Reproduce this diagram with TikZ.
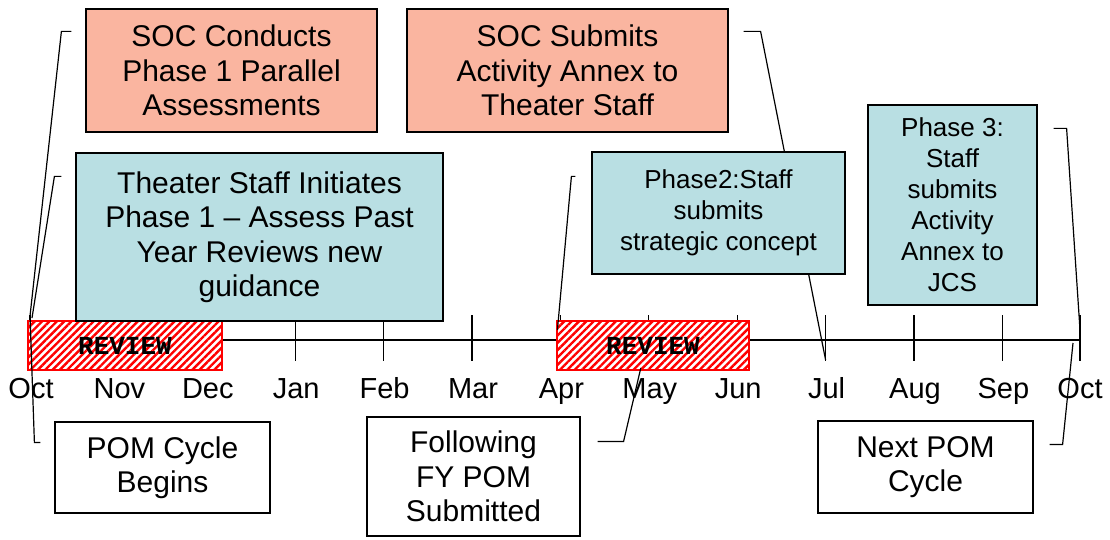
\documentclass[tikz,border=0pt]{standalone}
\usepackage{fontspec}
\setmainfont{Liberation Sans}
\newfontfamily\revfont{Liberation Mono}
\usetikzlibrary{patterns.meta}
\definecolor{salmon}{RGB}{250,181,160}
\definecolor{celeste}{RGB}{185,223,227}
\pgfdeclarelayer{eje}
\pgfdeclarelayer{revision}
\pgfdeclarelayer{lineas}
\pgfsetlayers{eje,revision,lineas,main}

\begin{document}
\begin{tikzpicture}[x=1pt, y=-1pt,
        every node/.style={align=center, inner sep=0pt},
        caja/.style={draw, line width=1.2pt, font=\fontsize{30}{34.5}\selectfont},
        soc/.style={caja, fill=salmon},
        fase/.style={caja, fill=celeste},
        fasechica/.style={fase, font=\fontsize{26}{31}\selectfont},
        pom/.style={caja, fill=white},
        revision/.style={draw=red, line width=1.5pt, preaction={fill=white},
            pattern={Lines[angle=45, distance=5.2pt, line width=2.4pt]}, pattern color=red,
            minimum height=49pt, font=\revfont\bfseries\fontsize{26}{26}\selectfont},
        mes/.style={anchor=base, font=\fontsize{29}{29}\selectfont},
        linea/.style={line width=1.2pt}
    ]
    \useasboundingbox (0,0) rectangle (1110,540);

    \node (soc1) [soc, minimum width=291pt, minimum height=123pt] at (231.5,70.5) {SOC Conducts\\Phase 1 Parallel\\Assessments};
    \node (soc2) [soc, minimum width=321pt, minimum height=123pt] at (567.5,70.5) {SOC Submits\\Activity Annex to\\Theater Staff};
    \node (teatro) [fase, minimum width=367pt, minimum height=168pt] at (259.5,237) {Theater Staff Initiates\\Phase 1 – Assess Past\\Year Reviews new\\guidance};
    \node (fase2) [fasechica, minimum width=253pt, minimum height=122pt] at (718.5,213) {Phase2:Staff\\submits\\strategic concept};
    \node (fase3) [fasechica, minimum width=169pt, minimum height=200pt] at (952.5,205) {Phase 3:\\Staff\\submits\\Activity\\Annex to\\JCS};
    \node (pom1) [pom, minimum width=215pt, minimum height=91pt] at (162.5,467.5) {POM Cycle\\Begins};
    \node (pom2) [pom, minimum width=213pt, minimum height=119pt] at (473.5,476.5) {Following\\FY POM\\Submitted};
    \node (pom3) [pom, minimum width=215pt, minimum height=92pt] at (925.5,467) {Next POM\\Cycle};

    % linea de tiempo
    \foreach \m [count=\i from 0] in {Oct,Nov,Dec,Jan,Feb,Mar,Apr,May,Jun,Jul,Aug,Sep} {
        \coordinate (t\i) at (30+88.4*\i,340);
        \node (m\i) [mes] at (31+88.4*\i,398) {\m};
    }
    \coordinate (t12) at (1080,340);
    \node (m12) [mes] at (1080,398) {Oct};

    \begin{pgfonlayer}{eje}
    \draw [linea] (t0) -- (t12);
    \foreach \i in {0,...,12}
        \draw [linea] ([yshift=25pt]t\i) -- ([yshift=-21pt]t\i);
    \end{pgfonlayer}

    \begin{pgfonlayer}{revision}
    \node (rev1) [revision, minimum width=194pt] at (125,345.5) {REVIEW};
    \node (rev2) [revision, minimum width=192pt] at (653,345.5) {REVIEW};
    \end{pgfonlayer}

    \begin{pgfonlayer}{lineas}
    \draw [linea] ([xshift=-14pt,yshift=-23pt]soc1.north west) -- ++(-10,0) -- ([yshift=24pt]t0);
    \draw [linea] ([xshift=-14pt,yshift=-24pt]teatro.north west) -- ++(-7,0) -- ([xshift=2pt,yshift=22pt]t0);
    \draw [linea] ([xshift=-14pt,yshift=-21pt]pom1.north west) -- ++(-6,0) -- ([yshift=25pt]t0);
    \draw [linea] ([xshift=-16pt,yshift=-25pt]fase2.north west) -- ++(-4,0) -- ([xshift=-3pt,yshift=10pt]t6);
    \draw [linea] ([xshift=17pt,yshift=-25pt]pom2.north east) -- ++(26,0) -- ([xshift=-8pt,yshift=-28pt]t7);
    \draw [linea] ([xshift=15pt,yshift=-23pt]soc2.north east) -- ++(17,0) -- ([yshift=-20pt]t9);
    \draw [linea] ([xshift=16pt,yshift=-24pt]fase3.north east) -- ++(13,0) -- ([yshift=10pt]t12);
    \draw [linea] ([xshift=16pt,yshift=-24pt]pom3.north east) -- ++(13,0) -- ([xshift=-7pt,yshift=-3pt]t12);
    \end{pgfonlayer}
\end{tikzpicture}
\end{document}
